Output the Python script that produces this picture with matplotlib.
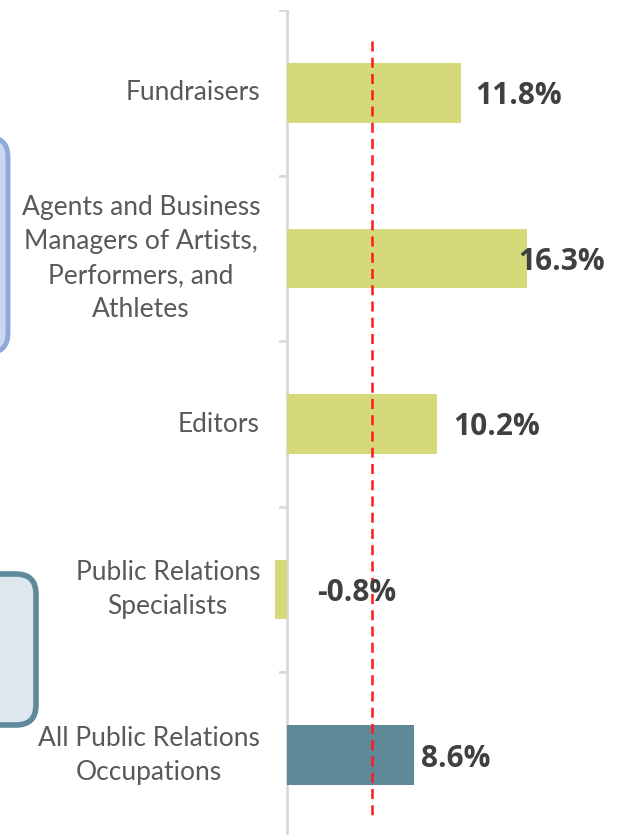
import matplotlib.pyplot as plt
from matplotlib.patches import FancyBboxPatch

# data
categories = [
    "Fundraisers",
    "Agents and Business\nManagers of Artists,\nPerformers, and\nAthletes",
    "Editors",
    "Public Relations\nSpecialists",
    "All Public Relations\nOccupations",
]
growth = [11.8, 16.3, 10.2, -0.8, 8.6]
value_labels = ["11.8%", "16.3%", "10.2%", "-0.8%", "8.6%"]
average_growth = 5.75

# styles
bar_colors = ["#d4da7a", "#d4da7a", "#d4da7a", "#d4da7a", "#5f8898"]
label_offsets = [14, -9, 16, 30, 7]  # pixels right of bar end (or of axis for negatives)

W, H = 624, 835
fig = plt.figure(figsize=(W / 100, H / 100), dpi=100)

# axis: 0% at x=287px, 14.75 px per percent; categories span y=10..838px
px_per_pct = 14.75
x0 = 287
ax = fig.add_axes([0, -3 / H, 1, (H - 10 + 3) / H])
ax.set_xlim(-x0 / px_per_pct, (W - x0) / px_per_pct)
ax.set_ylim(len(categories) - 0.5, -0.5)
ax.axis("off")

ypos = list(range(len(categories)))
ax.barh(ypos, growth, height=0.36, color=bar_colors, zorder=2)

# vertical axis line and category ticks
ax.axvline(0, color="#d9d9d9", lw=2, zorder=1)
tick_len = 7 / px_per_pct
for b in range(len(categories) + 1):
    ax.plot([-tick_len, 0], [b - 0.5, b - 0.5], color="#d9d9d9", lw=2, zorder=1)

# average line
ax.vlines(average_growth, -0.31, 4.40, colors="#ff1a1a", linestyles=(0, (4, 2.5)),
          lw=1.8, zorder=3)

# category labels
for y, name in zip(ypos, categories):
    ax.text(-27 / px_per_pct, y, name, ha="right", va="center", multialignment="center",
            fontsize=19, color="#595959", family="Lato", linespacing=1.45)

# value labels
for y, v, lab, off in zip(ypos, growth, value_labels, label_offsets):
    ax.text(max(v, 0) + off / px_per_pct, y + 0.02, lab, ha="left", va="center",
            fontsize=21.5, fontweight="bold", color="#404040", family="Open Sans", zorder=4)

# partially visible callout boxes at the left edge
box1 = FancyBboxPatch((-60, H - 353), 68, 216, boxstyle="round,pad=0,rounding_size=20",
                      transform=None, facecolor="#c9d8f0", edgecolor="#8eaadb", lw=3.5)
box2 = FancyBboxPatch((-60, H - 725), 96, 151, boxstyle="round,pad=0,rounding_size=20",
                      transform=None, facecolor="#dde8ee", edgecolor="#5f8a9b", lw=4)
fig.patches.extend([box1, box2])

fig.savefig("out.png", dpi=100)
